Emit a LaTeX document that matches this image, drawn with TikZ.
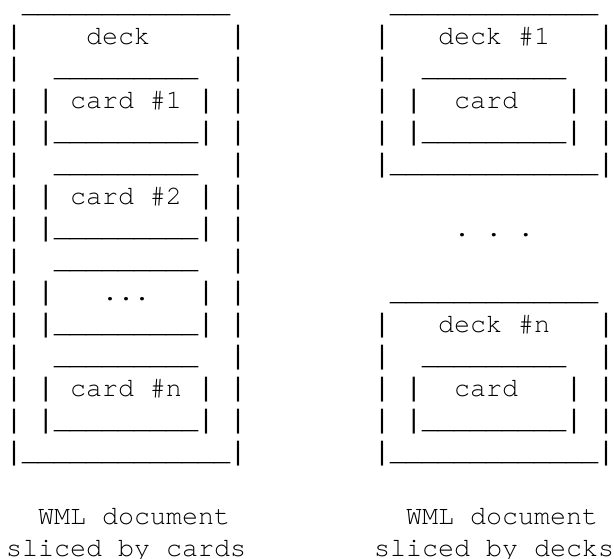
\documentclass[tikz,border=0pt]{standalone}
\usepackage{fontspec}
\newfontfamily\asciifont{TeX Gyre Cursor}
\newfontfamily\pipefont{Liberation Mono}
\newcommand{\pp}{{\pipefont|}}
\tikzset{
  row/.style={anchor=base west, inner sep=0pt, outer sep=0pt,
    font=\asciifont\fontsize{26.667pt}{32pt}\selectfont, text=black}
}
% place text at column #1, row #2
\newcommand{\cellpos}[2]{({6+16*#1}, {-(12+32*#2)})}
\begin{document}
\begin{tikzpicture}[x=1pt,y=1pt]
\useasboundingbox (0,0) rectangle (614,-558);
% left: sliced by cards
\node[row] (l0)  at \cellpos{1}{0}  {\_\_\_\_\_\_\_\_\_\_\_\_\_};
\node[row] (l1)  at \cellpos{0}{1}  {\pp~~~~deck~~~~~\pp};
\node[row] (l2)  at \cellpos{0}{2}  {\pp~~\_\_\_\_\_\_\_\_\_~~\pp};
\node[row] (l3)  at \cellpos{0}{3}  {\pp~\pp~card~\#1~\pp~\pp};
\node[row] (l4)  at \cellpos{0}{4}  {\pp~\pp\_\_\_\_\_\_\_\_\_\pp~\pp};
\node[row] (l5)  at \cellpos{0}{5}  {\pp~~\_\_\_\_\_\_\_\_\_~~\pp};
\node[row] (l6)  at \cellpos{0}{6}  {\pp~\pp~card~\#2~\pp~\pp};
\node[row] (l7)  at \cellpos{0}{7}  {\pp~\pp\_\_\_\_\_\_\_\_\_\pp~\pp};
\node[row] (l8)  at \cellpos{0}{8}  {\pp~~\_\_\_\_\_\_\_\_\_~~\pp};
\node[row] (l9)  at \cellpos{0}{9}  {\pp~\pp~~~...~~~\pp~\pp};
\node[row] (l10) at \cellpos{0}{10} {\pp~\pp\_\_\_\_\_\_\_\_\_\pp~\pp};
\node[row] (l11) at \cellpos{0}{11} {\pp~~\_\_\_\_\_\_\_\_\_~~\pp};
\node[row] (l12) at \cellpos{0}{12} {\pp~\pp~card~\#n~\pp~\pp};
\node[row] (l13) at \cellpos{0}{13} {\pp~\pp\_\_\_\_\_\_\_\_\_\pp~\pp};
\node[row] (l14) at \cellpos{0}{14} {\pp\_\_\_\_\_\_\_\_\_\_\_\_\_\pp};
\node[row] (l16) at \cellpos{2}{16} {WML~document};
\node[row] (l17) at \cellpos{0}{17} {sliced~by~cards};
% right: sliced by decks
\node[row] (r0)  at \cellpos{24}{0}  {\_\_\_\_\_\_\_\_\_\_\_\_\_};
\node[row] (r1)  at \cellpos{23}{1}  {\pp~~~deck~\#1~~~\pp};
\node[row] (r2)  at \cellpos{23}{2}  {\pp~~\_\_\_\_\_\_\_\_\_~~\pp};
\node[row] (r3)  at \cellpos{23}{3}  {\pp~\pp~~card~~~\pp~\pp};
\node[row] (r4)  at \cellpos{23}{4}  {\pp~\pp\_\_\_\_\_\_\_\_\_\pp~\pp};
\node[row] (r5)  at \cellpos{23}{5}  {\pp\_\_\_\_\_\_\_\_\_\_\_\_\_\pp};
\node[row] (r7)  at \cellpos{28}{7}  {.~.~.};
\node[row] (r9)  at \cellpos{24}{9}  {\_\_\_\_\_\_\_\_\_\_\_\_\_};
\node[row] (r10) at \cellpos{23}{10} {\pp~~~deck~\#n~~~\pp};
\node[row] (r11) at \cellpos{23}{11} {\pp~~\_\_\_\_\_\_\_\_\_~~\pp};
\node[row] (r12) at \cellpos{23}{12} {\pp~\pp~~card~~~\pp~\pp};
\node[row] (r13) at \cellpos{23}{13} {\pp~\pp\_\_\_\_\_\_\_\_\_\pp~\pp};
\node[row] (r14) at \cellpos{23}{14} {\pp\_\_\_\_\_\_\_\_\_\_\_\_\_\pp};
\node[row] (r16) at \cellpos{25}{16} {WML~document};
\node[row] (r17) at \cellpos{23}{17} {sliced~by~decks};
\end{tikzpicture}
\end{document}
